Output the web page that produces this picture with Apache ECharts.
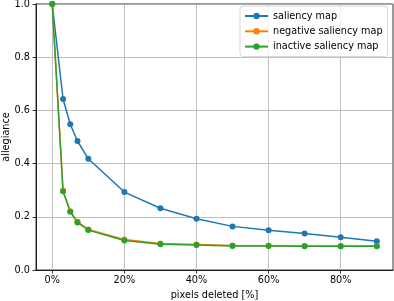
<!DOCTYPE html>
<html>
<head>
<meta charset="utf-8">
<script src="https://cdn.jsdelivr.net/npm/echarts@6/dist/echarts.min.js"></script>
<style>
html,body{margin:0;padding:0;background:#fff;}
#chart{width:394px;height:301px;}
</style>
</head>
<body>
<div id="chart"></div>
<script>
var pixelsDeleted = [0, 3, 5, 7, 10, 20, 30, 40, 50, 60, 70, 80, 90];
var saliencyMap = [1.0, 0.643, 0.548, 0.485, 0.418, 0.293, 0.232, 0.193, 0.164, 0.149, 0.137, 0.123, 0.108];
var negativeSaliencyMap = [1.0, 0.298, 0.221, 0.181, 0.152, 0.115, 0.100, 0.096, 0.092, 0.091, 0.090, 0.090, 0.090];
var inactiveSaliencyMap = [1.0, 0.296, 0.219, 0.179, 0.150, 0.111, 0.097, 0.094, 0.090, 0.090, 0.089, 0.089, 0.089];
var xTicks = [0, 20, 40, 60, 80];
var seriesNames = ['saliency map', 'negative saliency map', 'inactive saliency map'];
var colors = ['#1f77b4', '#ff7f0e', '#2ca02c'];

function pairs(vals) {
  return pixelsDeleted.map(function (x, i) { return [x, vals[i]]; });
}

var chart = echarts.init(document.getElementById('chart'), null, {renderer: 'canvas'});
var font = 'DejaVu Sans';
var allSeries = [saliencyMap, negativeSaliencyMap, inactiveSaliencyMap].map(function (vals, i) {
  return {
    name: seriesNames[i],
    type: 'line',
    data: pairs(vals),
    symbol: 'circle',
    symbolSize: 6,
    showAllSymbol: true,
    color: colors[i],
    lineStyle: {width: 1.5, color: colors[i]},
    itemStyle: {color: colors[i]},
    emphasis: {disabled: true},
    animation: false
  };
});

chart.setOption({
  animation: false,
  color: colors,
  grid: {left: 36, top: 4, right: 1, bottom: 31, containLabel: false, outerBoundsMode: 'none', show: true, borderColor: '#000', borderWidth: 0.8, backgroundColor: 'transparent'},
  legend: {
    data: seriesNames,
    orient: 'vertical',
    left: 240,
    top: 6,
    padding: [5, 5, 5, 4],
    itemWidth: 23,
    itemHeight: 8,
    itemGap: 5.3,
    borderColor: '#cccccc',
    borderWidth: 0.8,
    borderRadius: 3,
    backgroundColor: 'rgba(255,255,255,0.8)',
    textStyle: {fontFamily: font, fontSize: 9.7, color: '#000', lineHeight: 10},
    selectedMode: false
  },
  xAxis: {
    type: 'value',
    min: -4.5,
    max: 94.5,
    name: 'pixels deleted [%]',
    nameLocation: 'middle',
    nameGap: 20,
    nameMoveOverlap: false,
    nameTextStyle: {fontFamily: font, fontSize: 9.7, color: '#000'},
    axisLine: {show: true, onZero: false, lineStyle: {color: '#000', width: 0.8}},
    axisTick: {show: true, inside: false, length: 3.5, customValues: xTicks, lineStyle: {color: '#000', width: 0.8}},
    axisLabel: {customValues: xTicks, fontFamily: font, fontSize: 9.7, color: '#000', margin: 5, formatter: function (v) { return v + '%'; }},
    splitLine: {show: true, lineStyle: {color: '#b0b0b0', width: 0.8}}
  },
  yAxis: {
    type: 'value',
    min: 0,
    max: 1,
    interval: 0.2,
    name: 'allegiance',
    nameLocation: 'middle',
    nameGap: 25,
    nameMoveOverlap: false,
    nameTextStyle: {fontFamily: font, fontSize: 9.7, color: '#000'},
    axisLine: {show: true, onZero: false, lineStyle: {color: '#000', width: 0.8}},
    axisTick: {show: true, inside: false, length: 3.5, lineStyle: {color: '#000', width: 0.8}},
    axisLabel: {fontFamily: font, fontSize: 9.7, color: '#000', margin: 6, formatter: function (v) { return v.toFixed(1); }},
    splitLine: {show: true, lineStyle: {color: '#b0b0b0', width: 0.8}}
  },
  series: allSeries
});
</script>
</body>
</html>
